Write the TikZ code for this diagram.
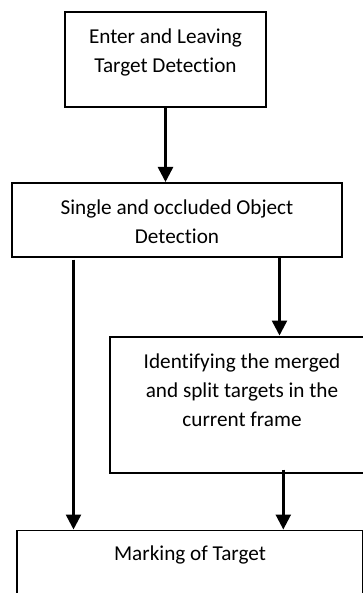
\documentclass[tikz,border=0pt]{standalone}
\usepackage{fontspec}
\setmainfont{Carlito}[Ligatures=NoCommon]
\usepackage{tikz}
\usetikzlibrary{arrows.meta,positioning}
\tikzstyle{block} = [draw, rectangle, line width=1pt, align=center,
    inner sep=0pt, font=\fontsize{10.6pt}{14.5pt}\selectfont]
\tikzstyle{line} = [draw, line width=1.25pt,
    -{Triangle[length=7.5pt,width=7.5pt]}]

\begin{document}
\begin{tikzpicture}
  \useasboundingbox (0,0) rectangle (181.5pt,-296.5pt);
  \clip (0,0) rectangle (181.5pt,-296.5pt);
  % Place nodes
  \node [block, minimum width=100.5pt, text height=30.35pt, text depth=17.15pt]
    (enter) at (82.75pt,-29.75pt) {Enter and Leaving\\Target Detection};
  \node [block, minimum width=165pt, text height=30.35pt, text depth=6.4pt,
    below=37pt of enter, xshift=5.75pt] (single) {Single and occluded Object\\Detection};
  \node [block, minimum width=132pt, text height=45pt, text depth=23pt,
    below=39pt of single, xshift=32.5pt] (merged)
    {Identifying the merged\\and split targets in the\\current frame};
  \node [block, line width=0.7pt, minimum width=173pt, text height=15pt, text depth=52.5pt,
    below=28pt of merged, xshift=-26pt] (mark) {Marking of Target};
  % Connectors
  \coordinate (sl) at ([xshift=-51.75pt]single.south);
  \coordinate (sr) at ([xshift=51.25pt]single.south);
  \coordinate (mr) at ([xshift=20.65pt]merged.south);
  \draw [line] (enter.south) -- (enter.south |- single.north);
  \draw [line] ([yshift=-1pt]sl) -- (sl |- mark.north);
  \draw [line] (sr) -- (sr |- merged.north);
  \draw [line] ([yshift=2pt]mr) -- (mr |- mark.north);
\end{tikzpicture}
\end{document}
